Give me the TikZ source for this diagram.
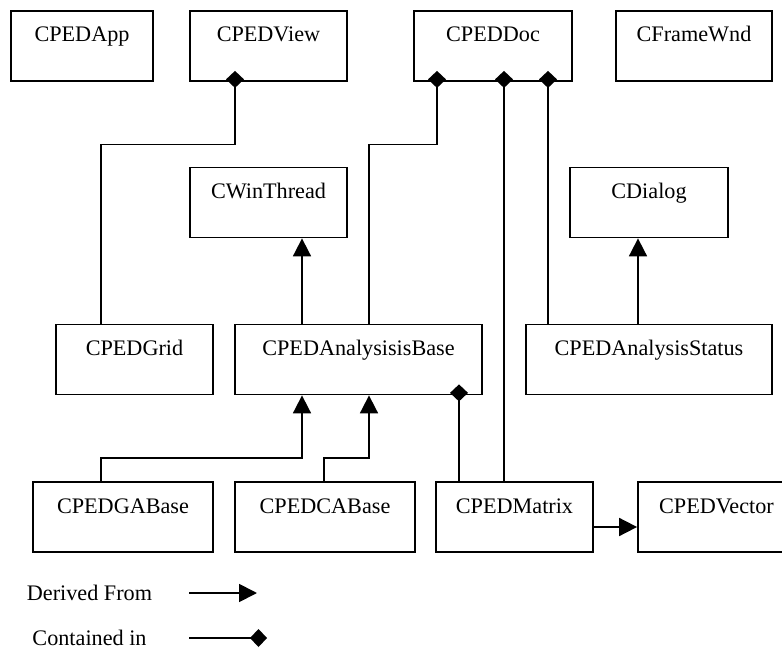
\documentclass[tikz,border=0pt]{standalone}
\usepackage{fontspec}
\setmainfont{Liberation Serif}
\usetikzlibrary{arrows.meta}

\begin{document}
\begin{tikzpicture}[x=1pt,y=-1pt,font=\fontsize{22.2}{26}\selectfont,
		cls/.style={draw,line width=1.8pt,inner sep=0pt,minimum height=70pt,text height=31pt,text depth=39pt},
		derived/.style={line width=1.8pt,-{Triangle[length=18pt,width=18pt]}},
		contain/.style={line width=1.8pt,-{Diamond[length=17pt,width=18pt]},shorten >=-11pt}]
			\useasboundingbox (0,0) rectangle (782,650);

			% Draw classes, top row
			\node[cls,minimum width=142pt] (app) at (82,46) {CPEDApp};
			\node[cls,minimum width=157pt] (view) at (268.5,46) {CPEDView};
			\node[cls,minimum width=158pt] (doc) at (493,46) {CPEDDoc};
			\node[cls,minimum width=156pt] (frame) at (694,46) {CFrameWnd};
			% Draw base classes
			\node[cls,minimum width=157pt] (thread) at (268.5,202.5) {CWinThread};
			\node[cls,minimum width=158pt] (dialog) at (649,202.5) {CDialog};
			% Draw middle row
			\node[cls,minimum width=157pt] (grid) at (134.5,359.5) {CPEDGrid};
			\node[cls,minimum width=247pt] (abase) at (358.5,359.5) {CPEDAnalysisisBase};
			\node[cls,minimum width=246pt] (status) at (649,359.5) {CPEDAnalysisStatus};
			% Draw bottom row
			\node[cls,minimum width=180pt] (gabase) at (123,517) {CPEDGABase};
			\node[cls,minimum width=180pt] (cabase) at (325,517) {CPEDCABase};
			\node[cls,minimum width=157pt] (matrix) at (514.5,517) {CPEDMatrix};
			\node[cls,minimum width=157pt] (vector) at (716.5,517) {CPEDVector};

			% Draw containment
			\draw[contain] ([xshift=-33.5pt]grid.north) -- ++(0,-179) -| ([xshift=-33.5pt]view.south);
			\draw[contain] ([xshift=10.5pt]abase.north) -- ++(0,-179) -| ([xshift=-56pt]doc.south);
			\draw[contain] ([xshift=-10.5pt]matrix.north) -- ([xshift=11pt]doc.south);
			\draw[contain] ([xshift=-101pt]status.north) -- ([xshift=55pt]doc.south);
			\draw[contain] ([xshift=-55.5pt]matrix.north) -- ([xshift=100.5pt]abase.south);

			% Draw inheritance
			\draw[derived] ([xshift=-56.5pt]abase.north) -- ([xshift=33.5pt]thread.south);
			\draw[derived] ([xshift=-11pt]status.north) -- ([xshift=-11pt]dialog.south);
			\draw[derived] ([xshift=-22pt]gabase.north) -- ++(0,-23) -| ([xshift=-56.5pt]abase.south);
			\draw[derived] ([xshift=-1pt]cabase.north) -- ++(0,-23) -| ([xshift=10.5pt]abase.south);
			\draw[derived] ([yshift=-10pt]matrix.east) -- ([yshift=-10pt]vector.west);

			% Draw legend
			\node (dlabel) at (89.5,593) {Derived From};
			\node (clabel) at (89.5,638) {Contained in};
			\coordinate (dstart) at (189,593);
			\coordinate (dend) at (257,593);
			\coordinate (cstart) at (189,638);
			\coordinate (cend) at (256,638);
			\draw[derived] (dstart) -- (dend);
			\draw[contain] (cstart) -- (cend);
		\end{tikzpicture}
\end{document}
